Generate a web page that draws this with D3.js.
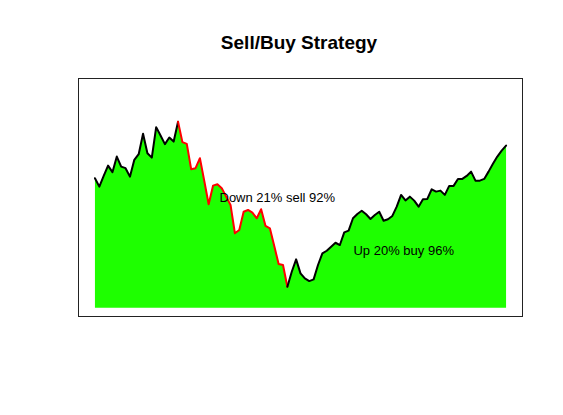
<!DOCTYPE html>
<meta charset="utf-8">
<script src="https://d3js.org/d3.v7.min.js"></script>
<style>
    body { margin: 0; background: #fff; }
    text { font-family: "Liberation Sans", Arial, sans-serif; }
</style>
<div id="chart"></div>
<script>
    // price series (peak = 100)
    var prices = [
        92.81, 91.74, 93.10, 94.42, 93.58, 95.57, 94.29, 94.09, 93.01, 95.15,
        95.87, 98.47, 96.00, 95.44, 99.32, 98.25, 97.15, 98.00, 97.48, 100.0,
        97.41, 97.19, 93.96, 94.09, 95.36, 92.46, 89.49, 91.86, 92.04, 91.53,
        90.46, 89.40, 85.79, 86.21, 88.54, 88.76, 88.42, 87.70, 88.85, 86.72,
        86.42, 84.16, 81.86, 81.74, 78.97, 80.88, 82.46, 80.68, 80.04, 79.69,
        79.91, 81.74, 83.23, 83.56, 84.07, 84.58, 84.29, 85.91, 86.12, 87.70,
        88.25, 88.67, 88.21, 87.61, 88.12, 88.54, 87.39, 87.57, 88.00, 89.18,
        90.68, 89.97, 90.46, 89.95, 89.18, 90.13, 90.17, 91.40, 91.10, 91.23,
        90.68, 91.83, 91.83, 92.72, 92.72, 93.10, 93.65, 92.50, 92.50, 92.72,
        93.65, 94.64, 95.57, 96.33, 96.97
    ];
    var peakIdx = 19,
        troughIdx = 44;
    var yLimits = [76.3, 104.4];

    var labels = [
        { text: 'Down 21% sell 92%', i: 41.7, v: 90.35 },
        { text: 'Up 20% buy 96%', i: 70.6, v: 83.65 }
    ];

    var width = 563,
        height = 415,
        plot = { left: 78.5, right: 522.5, top: 78.5, bottom: 316.5 };

    var svg = d3.select('#chart').append('svg')
        .attr('width', width)
        .attr('height', height);

    // R style axes: 4% padding on each side
    var n = prices.length - 1,
        yr = yLimits[1] - yLimits[0];
    var x = d3.scaleLinear()
        .domain([-0.04 * n, n * 1.04])
        .range([plot.left, plot.right]);
    var y = d3.scaleLinear()
        .domain([yLimits[0] - 0.04 * yr, yLimits[1] + 0.04 * yr])
        .range([plot.bottom, plot.top]);

    var area = d3.area()
        .x((d, i) => x(i))
        .y0(y(yLimits[0]))
        .y1(d => y(d));

    svg.append('path')
        .datum(prices)
        .attr('d', area)
        .attr('fill', '#1eff00');

    var line = d3.line()
        .x(d => x(d.i))
        .y(d => y(d.v));

    var pts = prices.map((v, i) => ({ i: i, v: v }));
    var segs = [
        { data: pts.slice(0, peakIdx + 1), color: '#000' },
        { data: pts.slice(peakIdx, troughIdx + 1), color: '#ff0000' },
        { data: pts.slice(troughIdx), color: '#000' }
    ];

    svg.selectAll('.seg')
        .data(segs)
        .enter().append('path')
        .attr('class', 'seg')
        .attr('d', d => line(d.data))
        .attr('fill', 'none')
        .attr('stroke', d => d.color)
        .attr('stroke-width', 2)
        .attr('stroke-linejoin', 'round')
        .attr('stroke-linecap', 'round');

    svg.selectAll('.lbl')
        .data(labels)
        .enter().append('text')
        .attr('class', 'lbl')
        .attr('x', d => x(d.i))
        .attr('y', d => y(d.v))
        .attr('dy', '0.35em')
        .attr('text-anchor', 'middle')
        .style('font-size', '13px')
        .text(d => d.text);

    // box around plot
    svg.append('rect')
        .attr('x', plot.left)
        .attr('y', plot.top)
        .attr('width', plot.right - plot.left)
        .attr('height', plot.bottom - plot.top)
        .attr('fill', 'none')
        .attr('stroke', '#222')
        .attr('stroke-width', 1);

    svg.append('text')
        .attr('x', 299)
        .attr('y', 49)
        .attr('text-anchor', 'middle')
        .style('font-size', '19px')
        .style('font-weight', 'bold')
        .text('Sell/Buy Strategy');
</script>
